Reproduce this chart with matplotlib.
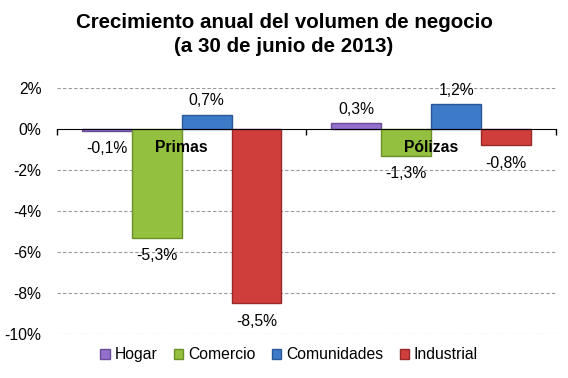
import numpy as np
import matplotlib
matplotlib.use('Agg')
import matplotlib.pyplot as plt
from matplotlib.patches import Patch

plt.rcParams['font.family'] = ['Liberation Sans', 'DejaVu Sans']

groups = ['Primas', 'Pólizas']
series = ['Hogar', 'Comercio', 'Comunidades', 'Industrial']
values = {
    'Hogar': [-0.1, 0.3],
    'Comercio': [-5.3, -1.3],
    'Comunidades': [0.7, 1.2],
    'Industrial': [-8.5, -0.8],
}
colors = ['#9470CC', '#93C03F', '#3D7AC8', '#D03E3B']
edges = ['#6A4C96', '#6B8F2A', '#2A5896', '#98292A']
yticks = [2, 0, -2, -4, -6, -8, -10]


def fmt(v):
    return ('%.1f%%' % v).replace('.', ',')


fig = plt.figure(figsize=(5.68, 3.78), dpi=100)
ax = fig.add_axes([0.1, 0.1164, 0.879, 0.6508])

width = 0.2
x = np.arange(len(groups))
for i, s in enumerate(series):
    xs = x - 0.3 + i * width
    vals = values[s]
    ax.bar(xs, vals, width, color=colors[i], edgecolor=edges[i], linewidth=1.0, zorder=3)
    for xi, v in zip(xs, vals):
        if v >= 0:
            ax.text(xi, v + 0.3, fmt(v), ha='center', va='bottom', fontsize=11.3)
        else:
            ax.text(xi, v - 0.5, fmt(v), ha='center', va='top', fontsize=11.3)

for xi, g in zip(x, groups):
    ax.text(xi, -0.55, g, ha='center', va='top', fontsize=11.3, fontweight='bold', zorder=5)

ax.set_xlim(-0.5, 1.5)
ax.set_ylim(-10, 2)
ax.set_yticks(yticks)
ax.set_yticklabels(['%d%%' % t for t in yticks], fontsize=11.3)
ax.tick_params(axis='y', length=0, pad=11)
for t in yticks:
    if t != 0:
        ax.axhline(t, color='#999999', linestyle=(0, (3, 2)), linewidth=0.8, zorder=1)

for side in ['left', 'right', 'top']:
    ax.spines[side].set_visible(False)
ax.spines['bottom'].set_position(('data', 0))
ax.spines['bottom'].set_zorder(4)
ax.set_xticks([-0.5, 0.5, 1.5])
ax.set_xticklabels([])
ax.tick_params(axis='x', direction='out', length=4, width=1)

fig.suptitle('Crecimiento anual del volumen de negocio\n(a 30 de junio de 2013)',
             fontsize=14.8, fontweight='bold', y=0.965, linespacing=1.3)

handles = [Patch(facecolor=c, edgecolor=e) for c, e in zip(colors, edges)]
fig.legend(handles, series, loc='center', bbox_to_anchor=(0.509, 0.061), ncol=4,
           frameon=False, fontsize=11.3, handlelength=0.6, handleheight=0.6,
           handletextpad=0.3, columnspacing=1.05)

fig.savefig('out.png', dpi=100)
